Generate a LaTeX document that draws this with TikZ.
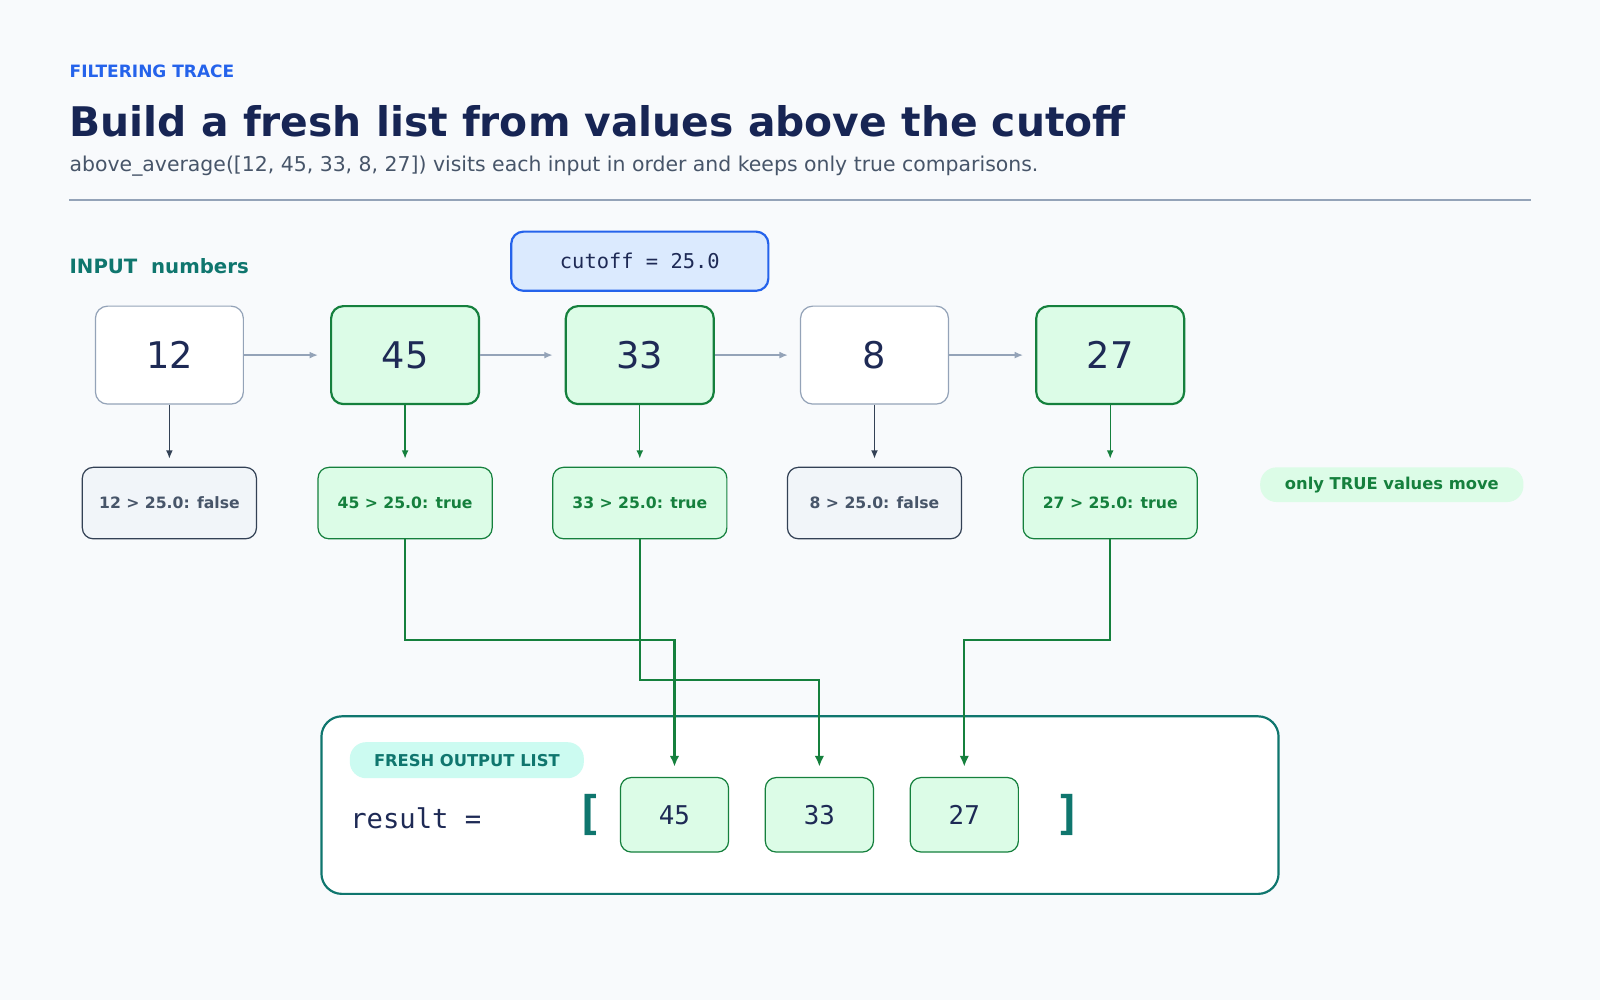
\documentclass[tikz,border=0pt]{standalone}
\usepackage{fontspec}
\setmainfont{DejaVu Sans}
\setmonofont{DejaVu Sans Mono}
\usetikzlibrary{arrows.meta,positioning}
\definecolor{bgc}{HTML}{F8FAFC}
\definecolor{navy}{HTML}{172554}
\definecolor{ink}{HTML}{1E2A55}
\definecolor{slate}{HTML}{475569}
\definecolor{rule}{HTML}{94A3B8}
\definecolor{blu}{HTML}{2563EB}
\definecolor{blufill}{HTML}{DBEAFE}
\definecolor{grn}{HTML}{15803D}
\definecolor{grnfill}{HTML}{DCFCE7}
\definecolor{teal}{HTML}{0F766E}
\definecolor{tealfill}{HTML}{CCFBF1}
\definecolor{dark}{HTML}{334155}
\definecolor{falsefill}{HTML}{F1F5F9}
\tikzset{
  inbox/.style={draw=rule,fill=white,rounded corners=9pt,minimum width=108.75pt,minimum height=72pt,line width=0.9pt,font=\fontsize{27}{27}\selectfont,text=ink},
  keep/.style={draw=grn,fill=grnfill,line width=1.6pt},
  cmp/.style={draw=dark,fill=falsefill,rounded corners=8pt,minimum width=128pt,minimum height=52.5pt,line width=0.9pt,font=\bfseries\fontsize{11.5}{12}\selectfont,text=slate},
  cmptrue/.style={draw=grn,fill=grnfill,text=grn},
  outbox/.style={draw=grn,fill=grnfill,rounded corners=8pt,minimum width=79.5pt,minimum height=54.75pt,line width=0.9pt,font=\ttfamily\fontsize{19}{19}\selectfont,text=ink},
  nextarr/.style={draw=rule,line width=0.9pt,-{Latex[length=6pt,width=5pt]}},
  down/.style={line width=0.9pt,-{Latex[length=6pt,width=5pt]}},
  flow/.style={draw=grn,line width=1.6pt,-{Latex[length=8pt,width=7pt]},shorten >=7.5pt},
  pill/.style={rounded corners=12pt,font=\bfseries\fontsize{12}{12}\selectfont}
}
\begin{document}
\begin{tikzpicture}[x=0.75pt,y=-0.75pt]
\fill[bgc] (0,0) rectangle (1568,980);
\useasboundingbox (0,0) rectangle (1568,980);
% header
\node[anchor=base west,inner sep=0,text=blu,font=\bfseries\fontsize{12.5}{13}\selectfont] (kicker) at (68,76) {FILTERING TRACE};
\node[anchor=base west,inner sep=0,text=navy,font=\bfseries\fontsize{30}{30}\selectfont] (title) at (68,134) {Build a fresh list from values above the cutoff};
\node[anchor=base west,inner sep=0,text=slate,font=\fontsize{15}{15}\selectfont] (sub) at (68,168) {above\_average([12, 45, 33, 8, 27]) visits each input in order and keeps only true comparisons.};
\draw[rule,line width=1pt] (68,196) -- (1500,196);
\node[anchor=base west,inner sep=0,text=teal,font=\bfseries\fontsize{14.5}{15}\selectfont] (inlab) at (68,268) {INPUT\ \ numbers};
\node[draw=blu,fill=blufill,line width=1.6pt,rounded corners=9pt,minimum width=189pt,minimum height=43.5pt,font=\ttfamily\fontsize{15}{15}\selectfont,text=ink] (cut) at (627,256) {cutoff = 25.0};
% inputs
\node[inbox] (n1) at (166,348) {12};
\node[inbox,keep] (n2) at (397,348) {45};
\node[inbox,keep] (n3) at (627,348) {33};
\node[inbox] (n4) at (857,348) {8};
\node[inbox,keep] (n5) at (1088,348) {27};
\foreach \a/\b in {n1/n2,n2/n3,n3/n4,n4/n5}
  \draw[nextarr] (\a.east) -- ([xshift=-9pt]\b.west);
% comparisons
\node[cmp] (c1) at (166,493) {12 > 25.0: false};
\node[cmp,cmptrue] (c2) at (397,493) {45 > 25.0: true};
\node[cmp,cmptrue] (c3) at (627,493) {33 > 25.0: true};
\node[cmp] (c4) at (857,493) {8 > 25.0: false};
\node[cmp,cmptrue] (c5) at (1088,493) {27 > 25.0: true};
\foreach \i/\col in {1/dark,2/grn,3/grn,4/dark,5/grn}
  \draw[down,\col] (n\i.south) -- ([yshift=6pt]c\i.north);
\node[pill,fill=grnfill,text=grn,minimum width=193.5pt,minimum height=25.5pt] (only) at (1364,475) {only TRUE values move};
% output list
\draw[teal,fill=white,line width=1.6pt,rounded corners=15pt] (315,702) rectangle (1253,876);
\node[pill,fill=tealfill,text=teal,minimum width=172pt,minimum height=26.5pt] (fresh) at (457.5,745) {FRESH OUTPUT LIST};
\node[anchor=base west,inner sep=0,font=\ttfamily\fontsize{20}{20}\selectfont,text=ink] (res) at (343,812) {result =};
\node[font=\ttfamily\bfseries\fontsize{34}{34}\selectfont,text=teal] (lb) at (578,799) {[};
\node[font=\ttfamily\bfseries\fontsize{34}{34}\selectfont,text=teal] (rb) at (1047,799) {]};
\node[outbox] (o1) at (661,798.5) {45};
\node[outbox] (o2) at (803,798.5) {33};
\node[outbox] (o3) at (945,798.5) {27};
\coordinate (k1) at (397,627);
\coordinate (k2) at (627,666);
\coordinate (k3) at (1088,627);
\draw[flow] (c2.south) -- (k1) -| (o1.north);
\draw[flow] (c3.south) -- (k2) -| (o2.north);
\draw[flow] (c5.south) -- (k3) -| (o3.north);
\end{tikzpicture}
\end{document}
